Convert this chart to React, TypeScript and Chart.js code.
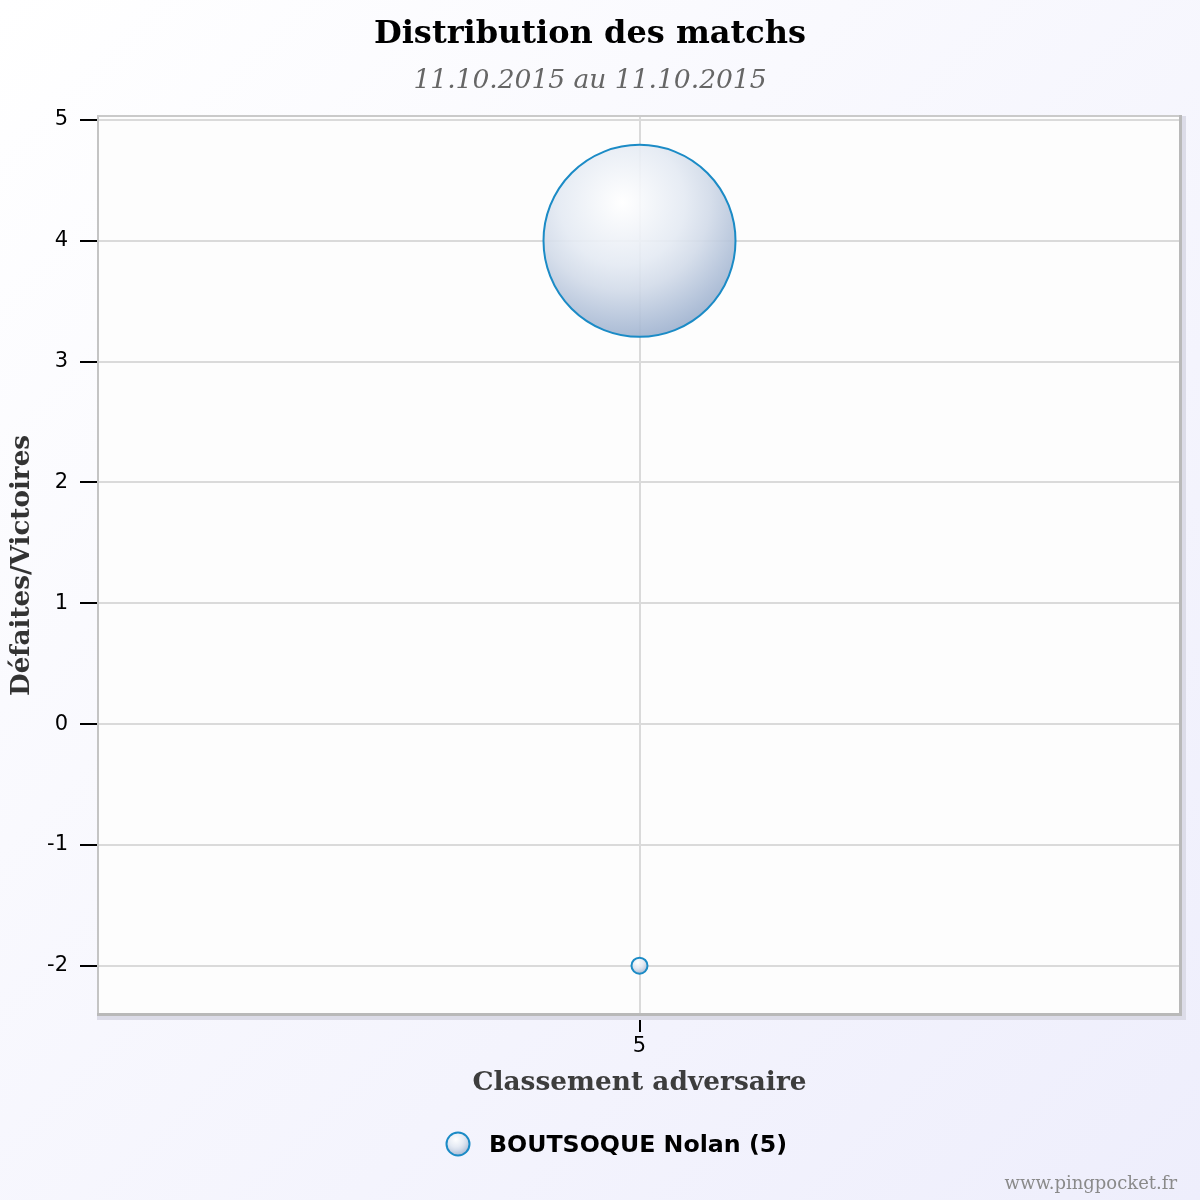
import React, { useEffect, useRef } from 'react';
import { Chart, registerables } from 'chart.js';

Chart.register(...registerables);

// ---- data ----
const categories = ['5'];
const seriesName = 'BOUTSOQUE Nolan (5)';
const bubbleX = ['5', '5'];
const bubbleY = [4, -2];
const bubbleR = [96, 8];
const yTicks = [5, 4, 3, 2, 1, 0, -1, -2];
const yMin = -2.4;
const yMax = 5.025;
const titleText = 'Distribution des matchs';
const subtitleText = '11.10.2015 au 11.10.2015';
const xTitleText = 'Classement adversaire';
const yTitleText = 'Défaites/Victoires';
const watermarkText = 'www.pingpocket.fr';

const BORDER_BLUE = '#1b8bc6';

function bubbleGradient(c: CanvasRenderingContext2D, cx: number, cy: number, r: number) {
  const hx = cx - 0.18 * r;
  const hy = cy - 0.4 * r;
  const g = c.createRadialGradient(hx, hy, 0, hx, hy, r * 1.45);
  g.addColorStop(0, 'rgba(255,255,255,0.92)');
  g.addColorStop(0.45, 'rgba(228,234,243,0.9)');
  g.addColorStop(0.63, 'rgba(210,219,233,0.9)');
  g.addColorStop(1, 'rgba(156,176,206,0.9)');
  return g;
}

const decorPlugin = {
  id: 'decor',
  beforeDraw(chart: any) {
    const { ctx, width, height, chartArea: a } = chart;
    ctx.save();
    const bg = ctx.createLinearGradient(0, 0, width, height);
    bg.addColorStop(0, '#ffffff');
    bg.addColorStop(1, '#eeeefc');
    ctx.fillStyle = bg;
    ctx.fillRect(0, 0, width, height);
    ctx.fillStyle = '#fdfdfd';
    ctx.fillRect(a.left, a.top, a.right - a.left, a.bottom - a.top);
    ctx.restore();
  },
  beforeDatasetsDraw(chart: any) {
    const { ctx, chartArea: a } = chart;
    const w = a.right - a.left;
    const h = a.bottom - a.top;
    ctx.save();
    ctx.fillStyle = '#dcdce8';
    ctx.fillRect(a.right + 2, a.top - 1, 4, h + 7);
    ctx.fillRect(a.left - 2, a.bottom + 2, w + 8, 4);
    ctx.fillStyle = '#c4c4c4';
    ctx.fillRect(a.left - 2, a.top - 2, 2, h + 2);
    ctx.fillStyle = '#cacaca';
    ctx.fillRect(a.left - 2, a.top - 2, w + 2, 2);
    ctx.fillStyle = '#b9b9b9';
    ctx.fillRect(a.right - 1, a.top - 2, 3, h + 4);
    ctx.fillRect(a.left - 2, a.bottom - 1, w + 4, 3);
    ctx.restore();
  },
  afterDraw(chart: any) {
    const { ctx } = chart;
    ctx.save();
    const lx = 458;
    const ly = 1144;
    const lr = 11.5;
    ctx.beginPath();
    ctx.arc(lx, ly, lr, 0, Math.PI * 2);
    ctx.fillStyle = bubbleGradient(ctx, lx, ly, lr);
    ctx.fill();
    ctx.lineWidth = 2;
    ctx.strokeStyle = BORDER_BLUE;
    ctx.stroke();
    ctx.fillStyle = '#000000';
    ctx.font = 'bold 23.7px "DejaVu Sans"';
    ctx.textAlign = 'left';
    ctx.textBaseline = 'middle';
    ctx.fillText(seriesName, 489, 1146);
    ctx.fillStyle = '#8a8a8a';
    ctx.font = '18px "DejaVu Serif"';
    ctx.textAlign = 'right';
    ctx.textBaseline = 'alphabetic';
    ctx.fillText(watermarkText, 1177, 1189);
    ctx.restore();
  },
};

export default function App() {
  const ref = useRef<HTMLCanvasElement | null>(null);

  useEffect(() => {
    document.body.style.margin = '0';
    const canvas = ref.current;
    if (!canvas) return;

    const data = bubbleX.map((x, i) => ({ x, y: bubbleY[i], r: bubbleR[i] }));

    const chart = new Chart(canvas, {
      type: 'bubble',
      data: {
        labels: categories,
        datasets: [
          {
            label: seriesName,
            data: data as any,
            borderColor: BORDER_BLUE,
            borderWidth: 2,
            hoverBorderWidth: 2,
            backgroundColor: (c: any) => {
              const fallback = 'rgba(210,219,233,0.9)';
              const ch = c.chart;
              if (c.type !== 'data' || !c.parsed || !ch.scales || !ch.scales.x || !ch.scales.y) {
                return fallback;
              }
              const cx = ch.scales.x.getPixelForValue(c.parsed.x);
              const cy = ch.scales.y.getPixelForValue(c.parsed.y);
              const r = c.raw && c.raw.r ? c.raw.r : 5;
              if (!Number.isFinite(cx) || !Number.isFinite(cy) || !Number.isFinite(r)) return fallback;
              return bubbleGradient(ch.ctx, cx, cy, r);
            },
          },
        ],
      },
      options: {
        responsive: false,
        animation: false,
        events: [],
        layout: { autoPadding: false, padding: { left: 0, right: 20, top: 0, bottom: 0 } },
        plugins: {
          legend: { display: false },
          tooltip: { enabled: false },
          title: {
            display: true,
            text: titleText,
            color: '#000000',
            font: { family: '"DejaVu Serif"', size: 32, weight: 'bold', lineHeight: 1.2 },
            padding: { top: 15.3, bottom: 0 },
          },
          subtitle: {
            display: true,
            text: subtitleText,
            color: '#666666',
            font: { family: '"DejaVu Serif"', size: 26.5, style: 'italic', lineHeight: 1.2 },
            padding: { top: 11.4, bottom: 20.1 },
          },
        },
        scales: {
          x: {
            type: 'category',
            offset: true,
            afterFit: (s: any) => {
              s.height = 186;
            },
            grid: {
              offset: false,
              color: '#dadada',
              lineWidth: 2,
              tickColor: '#000000',
              tickWidth: 2,
              tickLength: 18,
            },
            border: { display: false },
            ticks: {
              color: '#000000',
              padding: 2,
              font: { family: '"DejaVu Sans"', size: 21 },
            },
            title: {
              display: true,
              text: xTitleText,
              color: '#3d3d3d',
              font: { family: '"DejaVu Serif"', size: 26.4, weight: 'bold', lineHeight: 1.2 },
              padding: { top: 0, bottom: 101 },
            },
          },
          y: {
            type: 'linear',
            min: yMin,
            max: yMax,
            afterFit: (s: any) => {
              s.width = 99;
            },
            afterBuildTicks: (s: any) => {
              s.ticks = yTicks.map((v) => ({ value: v }));
            },
            grid: {
              color: '#dadada',
              lineWidth: 2,
              tickColor: '#000000',
              tickWidth: 2,
              tickLength: 19,
            },
            border: { display: false },
            ticks: {
              color: '#000000',
              padding: 12,
              font: { family: '"DejaVu Sans"', size: 21 },
            },
            title: {
              display: true,
              text: yTitleText,
              color: '#333333',
              font: { family: '"DejaVu Serif"', size: 26.2, weight: 'bold', lineHeight: 1.2 },
              padding: { top: 6.4, bottom: 0 },
            },
          },
        },
      },
      plugins: [decorPlugin],
    });

    return () => {
      chart.destroy();
    };
  }, []);

  return (
    <div style={{ width: 1200, height: 1200 }}>
      <canvas ref={ref} width={1200} height={1200} style={{ display: 'block' }} />
    </div>
  );
}
